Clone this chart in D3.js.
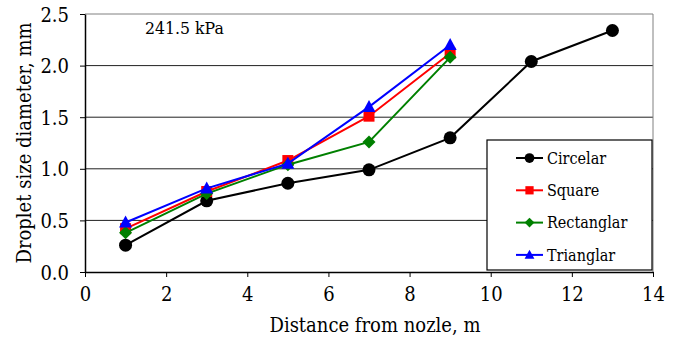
<!DOCTYPE html>
<html><head><meta charset="utf-8">
<script src="https://cdn.jsdelivr.net/npm/d3@7"></script>
<style>body{margin:0;background:#fff} svg text{font-family:"DejaVu Serif Condensed","DejaVu Serif",serif;font-stretch:condensed;}</style>
</head><body>
<svg id="c" width="675" height="337"></svg>
<script>
const xCircular = [1,3,5,7,9,11,13];
const yCircular = [0.26,0.69,0.86,0.99,1.30,2.04,2.34];
const xOthers = [1,3,5,7,9];
const ySquare = [0.42,0.78,1.08,1.51,2.12];
const yRectangular = [0.38,0.76,1.04,1.26,2.08];
const yTriangular = [0.48,0.81,1.05,1.60,2.20];
const xTicks = [0,2,4,6,8,10,12,14];
const yTicks = [0.0,0.5,1.0,1.5,2.0,2.5];
const seriesNames = ["Circelar","Square","Rectanglar","Trianglar"];
const seriesColors = ["#000000","#ff0000","#008000","#0000ff"];
const seriesShapes = ["circle","square","diamond","triangle"];

const series = [
  {name:seriesNames[0], xs:xCircular, ys:yCircular},
  {name:seriesNames[1], xs:xOthers, ys:ySquare},
  {name:seriesNames[2], xs:xOthers, ys:yRectangular},
  {name:seriesNames[3], xs:xOthers, ys:yTriangular}
];

const svg = d3.select("#c");
const L=85, R=653, T=14, B=272;
const x = d3.scaleLinear().domain([0,14]).range([L,R]);
const y = d3.scaleLinear().domain([0,2.5]).range([B,T]);

svg.append("g").selectAll("line").data(yTicks.filter(d=>d>0)).join("line")
  .attr("x1",L).attr("x2",R).attr("y1",d=>y(d)).attr("y2",d=>y(d))
  .attr("stroke", d=> d===2.5 ? "#808080" : "#202020").attr("stroke-width",1);
svg.append("line").attr("x1",R).attr("x2",R).attr("y1",T).attr("y2",B).attr("stroke","#808080");

const xAxis = svg.append("g").attr("transform",`translate(0,${B})`)
  .call(d3.axisBottom(x).tickValues(xTicks).tickSize(5).tickSizeOuter(0).tickFormat(d3.format("d")));
const yAxis = svg.append("g").attr("transform",`translate(${L},0)`)
  .call(d3.axisLeft(y).tickValues(yTicks).tickSize(5).tickSizeOuter(0).tickFormat(d3.format(".1f")));
[xAxis,yAxis].forEach(a=>{
  a.attr("font-family",null).attr("font-size",null);
  a.selectAll("text").attr("font-size",20).attr("fill","#000");
  a.selectAll("line").attr("stroke","#000");
  a.select(".domain").attr("stroke","#000").attr("stroke-width",1.5);
});
xAxis.selectAll("text").attr("dy","1.05em");
yAxis.selectAll("text").attr("x",-16).attr("dy","0.35em");

svg.append("text").attr("x",(L+R)/2+6).attr("y",332).attr("text-anchor","middle")
  .attr("font-size",20).text("Distance from nozle, m");
svg.append("text").attr("transform",`translate(31,${(T+B)/2}) rotate(-90)`).attr("text-anchor","middle")
  .attr("font-size",20).text("Droplet size diameter, mm");
svg.append("text").attr("x",145).attr("y",34).attr("font-size",17.5).text("241.5 kPa");

function marker(g, shape, color){
  if(shape==="circle") g.append("circle").attr("r",6.5).attr("fill",color);
  else if(shape==="square") g.append("rect").attr("x",-5.5).attr("y",-5.5).attr("width",11).attr("height",11).attr("fill",color);
  else if(shape==="diamond") g.append("path").attr("d","M0,-6.5L6.5,0L0,6.5L-6.5,0Z").attr("fill",color);
  else g.append("path").attr("d","M0,-7L6.5,5L-6.5,5Z").attr("fill",color);
}

const line = d3.line();
series.forEach((s,i)=>{
  const pts = s.xs.map((xv,j)=>[x(xv),y(s.ys[j])]);
  svg.append("path").attr("d",line(pts)).attr("fill","none").attr("stroke",seriesColors[i]).attr("stroke-width",2);
  pts.forEach(p=>{
    const g = svg.append("g").attr("transform",`translate(${p[0]},${p[1]})`);
    marker(g, seriesShapes[i], seriesColors[i]);
  });
});

const lg = svg.append("g");
lg.append("rect").attr("x",487).attr("y",140).attr("width",165).attr("height",130)
  .attr("fill","#fff").attr("stroke","#000").attr("stroke-width",1.2);
seriesNames.forEach((n,i)=>{
  const yy = 158 + i*32.3;
  lg.append("line").attr("x1",516).attr("x2",543).attr("y1",yy).attr("y2",yy).attr("stroke",seriesColors[i]).attr("stroke-width",2);
  const g = lg.append("g").attr("transform",`translate(529.5,${yy})`);
  const s = g.append("g").attr("transform","scale(0.75)");
  marker(s, seriesShapes[i], seriesColors[i]);
  lg.append("text").attr("x",547).attr("y",yy).attr("dy","0.35em").attr("font-size",16).text(n);
});
</script>
</body></html>
